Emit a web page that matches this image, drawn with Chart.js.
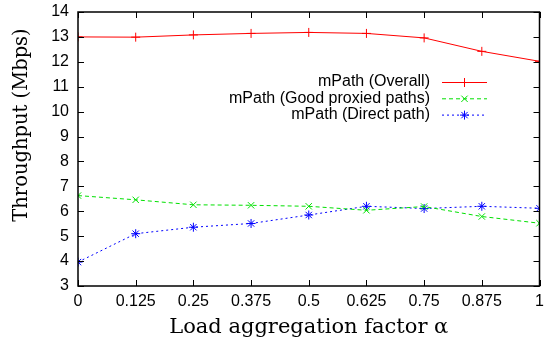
<!DOCTYPE html>
<html>
<head>
<meta charset="utf-8">
<script src="https://cdn.jsdelivr.net/npm/chart.js@4.4.0/dist/chart.umd.min.js"></script>
<style>
  html, body { margin: 0; padding: 0; background: #fff; }
  #wrap { width: 545px; height: 343px; }
</style>
</head>
<body>
<div id="wrap"><canvas id="tput"></canvas></div>
<script>
// load aggregation factor (x) and measured throughput per scheme
var alphas = [0, 0.125, 0.25, 0.375, 0.5, 0.625, 0.75, 0.875, 1];
var overall = [13.0, 12.99, 13.08, 13.14, 13.18, 13.14, 12.96, 12.42, 12.02];
var goodProxied = [6.63, 6.46, 6.26, 6.24, 6.2, 6.04, 6.19, 5.79, 5.52];
var directPath = [3.96, 5.1, 5.36, 5.51, 5.85, 6.2, 6.11, 6.2, 6.12];
var xTicks = [0, 0.125, 0.25, 0.375, 0.5, 0.625, 0.75, 0.875, 1];
var yTicks = [3, 4, 5, 6, 7, 8, 9, 10, 11, 12, 13, 14];
var seriesNames = ['mPath (Overall)', 'mPath (Good proxied paths)', 'mPath (Direct path)'];

function pts(ys) {
  return alphas.map(function (a, i) { return { x: a, y: ys[i] }; });
}

var sans = 'Liberation Sans, Arial, sans-serif';
var serif = 'DejaVu Serif, serif';
var tickFont = { family: sans, size: 16 };

// gnuplot-like frame: box border + inward tick marks on all four sides
var frame = {
  id: 'frame',
  afterDatasetsDraw: function (chart) {
    var ctx = chart.ctx, a = chart.chartArea;
    var xs = chart.scales.x, ys = chart.scales.y;
    ctx.save();
    ctx.strokeStyle = '#000';
    ctx.lineWidth = 1;
    ctx.beginPath();
    xTicks.forEach(function (t) {
      var px = Math.round(xs.getPixelForValue(t)) + 0.5;
      ctx.moveTo(px, a.bottom); ctx.lineTo(px, a.bottom - 6);
      ctx.moveTo(px, a.top); ctx.lineTo(px, a.top + 6);
    });
    yTicks.forEach(function (t) {
      var py = Math.round(ys.getPixelForValue(t)) + 0.5;
      ctx.moveTo(a.left, py); ctx.lineTo(a.left + 6, py);
      ctx.moveTo(a.right, py); ctx.lineTo(a.right - 6, py);
    });
    ctx.stroke();
    ctx.lineWidth = 1.5;
    ctx.strokeRect(a.left, a.top, a.right - a.left, a.bottom - a.top);
    ctx.restore();
  }
};

// legend inside the plot, text right aligned with a sample line after it,
// plus the rotated y axis title
var keyBox = {
  id: 'keyBox',
  afterDraw: function (chart) {
    var ctx = chart.ctx;
    var textRight = 430, lineL = 442, lineR = 487, y0 = 82, step = 16.3;
    ctx.save();
    ctx.font = '16px ' + sans;
    ctx.textAlign = 'right';
    ctx.textBaseline = 'middle';
    chart.data.datasets.forEach(function (ds, i) {
      var y = y0 + i * step;
      ctx.fillStyle = '#000';
      ctx.fillText(seriesNames[i], textRight, y);
      ctx.strokeStyle = ds.borderColor;
      ctx.lineWidth = 1;
      ctx.setLineDash(ds.borderDash || []);
      ctx.beginPath();
      ctx.moveTo(lineL, y + 0.5); ctx.lineTo(lineR, y + 0.5);
      ctx.stroke();
      ctx.setLineDash([]);
      Chart.helpers.drawPoint(ctx, {
        pointStyle: ds.pointStyle, radius: 4.5, borderWidth: 1
      }, (lineL + lineR) / 2, y + 0.5);
    });

    ctx.translate(22, 125);
    ctx.rotate(-Math.PI / 2);
    ctx.textAlign = 'center';
    ctx.fillStyle = '#000';
    ctx.font = '19.5px ' + serif;
    ctx.fillText('Throughput (Mbps)', 0, 0);
    ctx.restore();
  }
};

new Chart(document.getElementById('tput'), {
  type: 'line',
  data: {
    datasets: [
      {
        label: seriesNames[0], data: pts(overall),
        borderColor: '#ff0000', backgroundColor: '#ff0000',
        borderWidth: 1, pointStyle: 'cross', pointRadius: 4.5, pointBorderWidth: 1
      },
      {
        label: seriesNames[1], data: pts(goodProxied),
        borderColor: '#00e000', backgroundColor: '#00e000',
        borderWidth: 1, borderDash: [4, 3], pointStyle: 'crossRot', pointRadius: 4.5, pointBorderWidth: 1
      },
      {
        label: seriesNames[2], data: pts(directPath),
        borderColor: '#0000ff', backgroundColor: '#0000ff',
        borderWidth: 1, borderDash: [2, 3], pointStyle: 'star', pointRadius: 4.5, pointBorderWidth: 1
      }
    ]
  },
  options: {
    responsive: true,
    maintainAspectRatio: false,
    animation: false,
    layout: { padding: { top: 12, right: 2, left: 0, bottom: 0 } },
    plugins: { legend: { display: false }, tooltip: { enabled: false } },
    scales: {
      x: {
        type: 'linear', min: 0, max: 1,
        afterBuildTicks: function (s) { s.ticks = xTicks.map(function (v) { return { value: v }; }); },
        afterFit: function (s) { s.height = 57; s.paddingRight = 0; s.paddingLeft = 0; },
        grid: { display: false, drawTicks: false },
        border: { display: false },
        ticks: { color: '#000', font: tickFont, padding: 6, maxRotation: 0, autoSkip: false,
                 callback: function (v) { return String(v); } },
        title: {
          display: true, color: '#000', padding: { top: 0, bottom: 3 },
          text: 'Load aggregation factor α',
          font: { family: serif, size: 21 }
        }
      },
      y: {
        min: 3, max: 14,
        afterBuildTicks: function (s) { s.ticks = yTicks.map(function (v) { return { value: v }; }); },
        afterFit: function (s) { s.width = 78; s.paddingTop = 0; s.paddingBottom = 0; },
        grid: { display: false, drawTicks: false },
        border: { display: false },
        ticks: { color: '#000', font: tickFont, padding: 9, autoSkip: false }
      }
    }
  },
  plugins: [frame, keyBox]
});
</script>
</body>
</html>
